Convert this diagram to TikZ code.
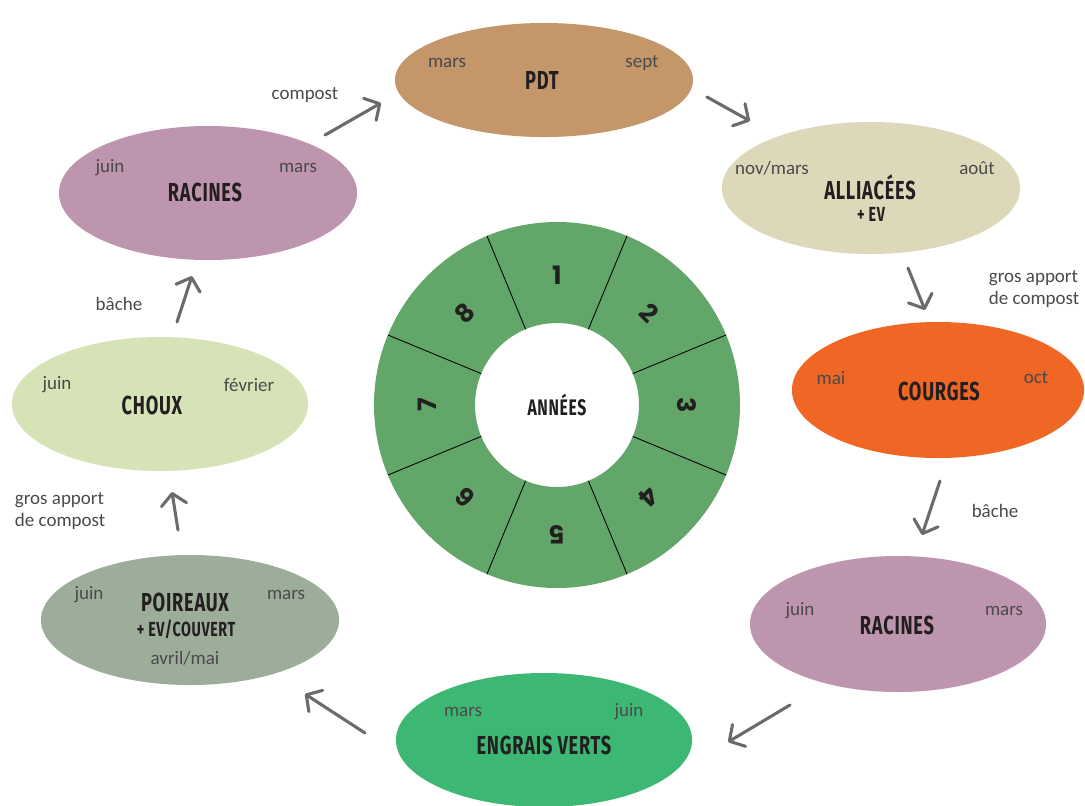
\documentclass[tikz,border=0pt]{standalone}
\usepackage{fontspec}
\setmainfont{Carlito}
\newfontfamily\titlefont[FakeStretch=0.7,LetterSpace=3]{Fira Sans}
\newfontfamily\numfont{Poppins}
\usetikzlibrary{shapes.geometric,arrows.meta}

\definecolor{pdtcol}{HTML}{C3976A}
\definecolor{alliacol}{HTML}{DDD8BA}
\definecolor{courgecol}{HTML}{EF6625}
\definecolor{racinecol}{HTML}{BE95AF}
\definecolor{engraiscol}{HTML}{3CB874}
\definecolor{poireaucol}{HTML}{9CAE99}
\definecolor{chouxcol}{HTML}{D6E3B6}
\definecolor{wheelcol}{HTML}{62A66A}
\definecolor{arrcol}{HTML}{6B6B6B}
\definecolor{inkcol}{HTML}{231F20}
\definecolor{txtcol}{HTML}{4A4A4A}

\begin{document}
\begin{tikzpicture}[x=0.025cm, y=-0.025cm,
	blob/.style={ellipse, inner sep=0pt},
	title/.style={font=\titlefont\bfseries\fontsize{18.5}{19}\selectfont, text=inkcol},
	sub/.style={font=\titlefont\bfseries\fontsize{14.5}{15}\selectfont, text=inkcol},
	month/.style={font=\fontsize{13.5}{16}\selectfont, text=txtcol},
	note/.style={month, align=left, anchor=west},
	num/.style={font=\numfont\bfseries\fontsize{18}{18}\selectfont, text=inkcol},
	arr/.style={draw=arrcol, line width=2.2pt, line cap=round, -{Straight Barb[length=8pt, width=18pt, round]}}]
	\useasboundingbox (0,0) rectangle (1085,805);

	% 1. Roue des années
	\coordinate (ctr) at (557,405);
	\fill[wheelcol, even odd rule] (ctr) circle (183) (ctr) circle (82);
	\foreach \a in {22.5,67.5,...,337.5}
		\draw[black, line width=0.6pt] ([shift={(\a:2.05cm)}]ctr) -- ([shift={(\a:4.575cm)}]ctr);
	\foreach \n in {1,...,8} {
		\pgfmathsetmacro\ang{90-45*(\n-1)}
		\node[num, rotate=\ang-90] (y\n) at ([shift={(\ang:3.25cm)}]ctr) {\n};
	}
	\node[title, font=\titlefont\bfseries\fontsize{16}{17}\selectfont] (annees) at (ctr) {ANNÉES};

	% 2. PDT
	\node[blob, fill=pdtcol, minimum width=7.45cm, minimum height=2.85cm] (pdt) at (544,80) {};
	\node[title] (pdtT) at (542,80) {PDT};
	\node[month] (pdtA) at (447,63) {mars};
	\node[month] (pdtB) at (642,63) {sept};

	% 3. Alliacées
	\node[blob, fill=alliacol, minimum width=7.45cm, minimum height=3.3cm] (allia) at (871,188) {};
	\node[title] (alliaT) at (870,187) {ALLIACÉES};
	\node[sub] (alliaS) at (871,214) {+ EV};
	\node[month] (alliaA) at (772,168) {nov/mars};
	\node[month] (alliaB) at (977,168) {août};

	% 4. Courges
	\node[blob, fill=courgecol, minimum width=7.3cm, minimum height=3.4cm] (courge) at (938,390) {};
	\node[title] (courgeT) at (939,391) {COURGES};
	\node[month] (courgeA) at (831,378) {mai};
	\node[month] (courgeB) at (1036,378) {oct};
	\node[note] (noteR) at (984,289) {gros apport\\de compost};

	% 5. Racines (droite)
	\node[blob, fill=racinecol, minimum width=7.4cm, minimum height=3.4cm] (racR) at (898,624) {};
	\node[title] (racRT) at (897,625) {RACINES};
	\node[month] (racRA) at (800,611) {juin};
	\node[month] (racRB) at (1004,611) {mars};
	\node[month] (bacheR) at (995,511) {bâche};

	% 6. Engrais verts
	\node[blob, fill=engraiscol, minimum width=7.4cm, minimum height=3.35cm] (engrais) at (544,740) {};
	\node[title] (engraisT) at (544,745) {ENGRAIS VERTS};
	\node[month] (engraisA) at (463,712) {mars};
	\node[month] (engraisB) at (629,712) {juin};

	% 7. Poireaux
	\node[blob, fill=poireaucol, minimum width=7.45cm, minimum height=3.25cm] (poireau) at (190,620) {};
	\node[title] (poireauT) at (185,602) {POIREAUX};
	\node[sub] (poireauS) at (186,629) {+ EV/COUVERT};
	\node[month] (poireauA) at (89,595) {juin};
	\node[month] (poireauB) at (286,595) {mars};
	\node[month] (poireauC) at (185,658) {avril/mai};
	\node[note] (noteL) at (10,511) {gros apport\\de compost};

	% 8. Choux
	\node[blob, fill=chouxcol, minimum width=7.4cm, minimum height=3.35cm] (choux) at (160,404) {};
	\node[title] (chouxT) at (152,405) {CHOUX};
	\node[month] (chouxA) at (57,385) {juin};
	\node[month] (chouxB) at (249,385) {février};
	\node[month] (bacheL) at (119,304) {bâche};

	% 9. Racines (gauche)
	\node[blob, fill=racinecol, minimum width=7.45cm, minimum height=3.35cm] (racL) at (208,193) {};
	\node[title] (racLT) at (205,192) {RACINES};
	\node[month] (racLA) at (110,168) {juin};
	\node[month] (racLB) at (298,168) {mars};
	\node[month] (compost) at (305,95) {compost};

	% 10. Flèches de rotation
	\coordinate (a1s) at (325,135); \coordinate (a1e) at (381,103);
	\coordinate (a2s) at (707,97);  \coordinate (a2e) at (750,121);
	\coordinate (a3s) at (908,268); \coordinate (a3e) at (925,310);
	\coordinate (a4s) at (940,481); \coordinate (a4e) at (922,535);
	\coordinate (a5s) at (790,705); \coordinate (a5e) at (728,742);
	\coordinate (a6s) at (365,733); \coordinate (a6e) at (305,694);
	\coordinate (a7s) at (178,530); \coordinate (a7e) at (172,492);
	\coordinate (a8s) at (177,322); \coordinate (a8e) at (192,276);
	\foreach \k in {1,...,8}
		\draw[arr] (a\k s) -- (a\k e);
\end{tikzpicture}
\end{document}
